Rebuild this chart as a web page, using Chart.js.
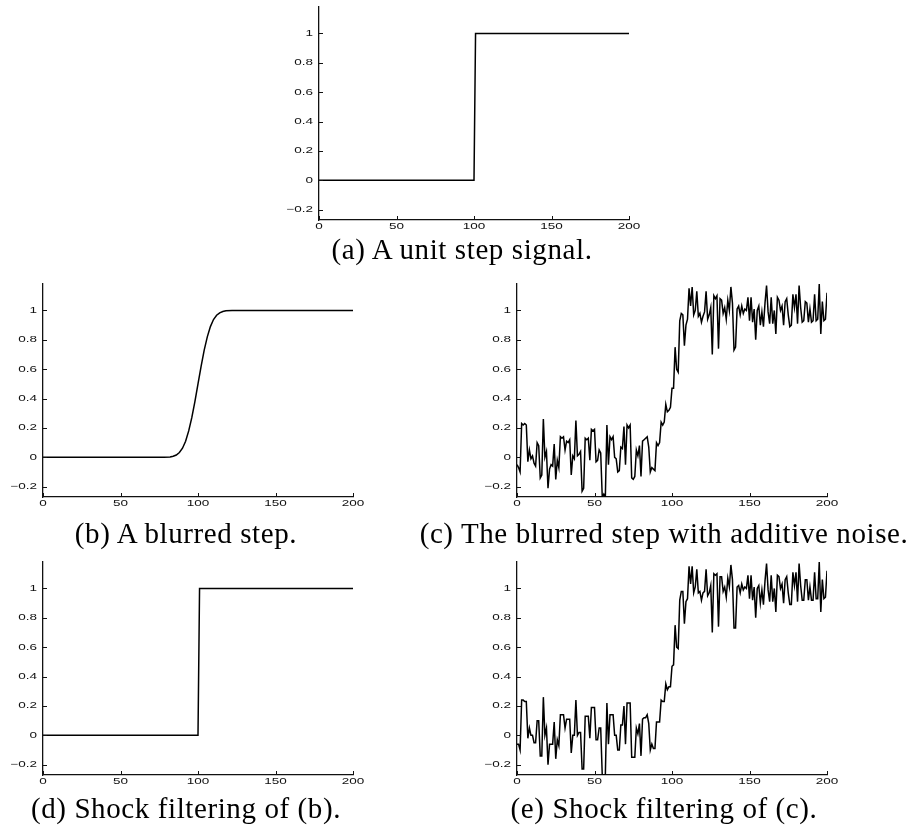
<!DOCTYPE html>
<html>
<head>
<meta charset="utf-8">
<script src="https://cdn.jsdelivr.net/npm/chart.js@4/dist/chart.umd.min.js"></script>
<style>
  html, body { margin: 0; padding: 0; background: #fff; }
  #page { position: relative; width: 920px; height: 831px; overflow: hidden; }
  canvas { position: absolute; }
  .cap {
    position: absolute; width: 600px; margin-left: -300px; text-align: center;
    font-family: "Liberation Serif", "Times New Roman", serif; font-size: 29px;
    line-height: 29px; letter-spacing: 0.6px; color: #000; white-space: nowrap;
  }
</style>
</head>
<body>
<div id="page"></div>
<script>
// axis ticks shared by all five panels
const xTicks = [0, 50, 100, 150, 200];
const xTickLabels = ["0", "50", "100", "150", "200"];
const yTicks = [-0.2, 0, 0.2, 0.4, 0.6, 0.8, 1];
const yTickLabels = ["\u22120.2", "0", "0.2", "0.4", "0.6", "0.8", "1"];

// (a) unit step
const stepX = [0, 100, 101, 200];
const stepY = [0, 0, 1, 1];

// (b) blurred step
const blurX = [0, 78, 82, 84, 86, 88, 90, 92, 94, 96, 98, 100, 102, 104, 106, 108, 110, 112, 114, 116, 118, 122, 200];
const blurY = [0, 0, 0.002, 0.007, 0.016, 0.033, 0.062, 0.11, 0.18, 0.27, 0.38, 0.5, 0.62, 0.73, 0.82, 0.89, 0.938, 0.967, 0.984, 0.993, 0.998, 1, 1];

// (c) blurred step with additive noise, samples 0..200
const noisyY = [
  -0.05, -0.07, -0.10, 0.23, 0.22, 0.23, 0.22, -0.03, 0.05, -0.01,
  0.01, -0.04, -0.06, 0.10, 0.08, -0.14, -0.12, 0.26, 0.00, 0.04,
  -0.21, -0.08, -0.05, -0.06, 0.09, -0.15, -0.02, -0.07, 0.14, 0.13,
  0.14, 0.05, 0.11, 0.10, 0.12, -0.12, 0.01, -0.01, 0.25, 0.01,
  0.02, 0.04, -0.23, -0.21, 0.13, 0.12, 0.13, -0.02, 0.19, 0.18,
  0.19, -0.03, -0.02, 0.05, 0.03, -0.27, -0.25, -0.27, 0.22, -0.05,
  0.14, 0.12, 0.14, 0.00, -0.01, -0.10, -0.09, 0.07, 0.06, 0.21,
  -0.05, 0.22, 0.20, 0.22, -0.14, -0.15, -0.13, 0.05, 0.01, 0.08,
  -0.13, 0.11, 0.12, 0.13, 0.14, 0.07, -0.10, -0.07, -0.08, -0.09,
  0.10, 0.08, 0.10, 0.24, 0.22, 0.24, 0.36, 0.31, 0.32, 0.34,
  0.47, 0.47, 0.75, 0.60, 0.58, 0.93, 0.98, 0.97, 0.76, 0.90,
  0.94, 1.15, 1.03, 1.16, 0.97, 1.00, 1.13, 0.96, 0.98, 0.92,
  0.96, 0.99, 1.13, 0.94, 0.97, 1.02, 0.70, 1.10, 1.08, 1.10,
  0.74, 1.08, 1.07, 0.98, 1.02, 0.94, 1.07, 1.00, 1.16, 1.05,
  0.73, 0.75, 1.01, 1.03, 0.97, 1.03, 0.98, 1.01, 1.00, 1.09,
  0.93, 1.09, 0.92, 1.01, 0.80, 1.00, 1.03, 0.90, 0.99, 0.89,
  1.05, 1.17, 0.99, 0.91, 1.09, 0.91, 1.00, 0.84, 1.09, 1.07,
  1.00, 1.03, 0.90, 1.06, 1.08, 0.97, 0.89, 0.90, 1.11, 1.02,
  1.11, 0.91, 1.17, 1.02, 0.92, 0.93, 1.06, 1.05, 0.92, 1.01,
  0.92, 0.93, 1.11, 0.93, 0.94, 1.18, 0.84, 1.06, 0.93, 0.94,
  1.12
];

// (d) shock filtering of (b)
const shockStepX = [0, 100, 101, 200];
const shockStepY = [0, 0, 1, 1];

// (e) shock filtering of (c), samples 0..200
const shockY = [
  -0.06, -0.06, -0.10, 0.24, 0.24, 0.23, 0.23, -0.02, 0.05, 0.00,
  0.00, -0.05, -0.05, 0.10, 0.10, -0.14, -0.14, 0.26, 0.00, 0.05,
  -0.20, -0.06, -0.06, -0.06, 0.09, -0.16, -0.03, -0.07, 0.14, 0.14,
  0.14, 0.05, 0.11, 0.11, 0.11, -0.12, 0.00, 0.00, 0.24, 0.00,
  0.02, 0.02, -0.23, -0.23, 0.13, 0.13, 0.13, -0.02, 0.19, 0.19,
  0.19, -0.03, -0.03, 0.05, 0.05, -0.27, -0.27, -0.27, 0.22, -0.06,
  0.14, 0.14, 0.14, 0.00, 0.00, -0.10, -0.10, 0.07, 0.07, 0.20,
  -0.06, 0.22, 0.22, 0.22, -0.15, -0.15, -0.15, 0.05, 0.01, 0.08,
  -0.14, 0.11, 0.12, 0.12, 0.14, 0.08, -0.10, -0.06, -0.09, -0.09,
  0.09, 0.09, 0.09, 0.24, 0.23, 0.23, 0.35, 0.31, 0.33, 0.33,
  0.47, 0.48, 0.75, 0.60, 0.59, 0.92, 0.98, 0.98, 0.76, 0.91,
  0.93, 1.15, 1.03, 1.15, 0.97, 1.01, 1.13, 0.97, 0.98, 0.92,
  0.97, 0.98, 1.13, 0.95, 0.97, 1.02, 0.70, 1.10, 1.09, 1.10,
  0.74, 1.08, 1.08, 0.98, 1.01, 0.94, 1.07, 1.01, 1.16, 1.06,
  0.73, 0.73, 1.01, 1.02, 0.97, 1.03, 0.99, 1.01, 1.00, 1.09,
  0.93, 1.09, 0.92, 1.01, 0.80, 1.00, 1.02, 0.90, 0.99, 0.89,
  1.05, 1.17, 0.99, 0.91, 1.09, 0.91, 1.00, 0.84, 1.09, 1.08,
  1.00, 1.03, 0.90, 1.06, 1.08, 0.97, 0.89, 0.89, 1.11, 1.02,
  1.11, 0.91, 1.17, 1.02, 0.92, 0.92, 1.06, 1.06, 0.92, 1.01,
  0.92, 0.92, 1.11, 0.93, 0.93, 1.18, 0.84, 1.06, 0.93, 0.94,
  1.12
];

const captions = [
  "(a) A unit step signal.",
  "(b) A blurred step.",
  "(c) The blurred step with additive noise.",
  "(d) Shock filtering of (b).",
  "(e) Shock filtering of (c)."
];

const toPoints = (xs, ys) => ys.map((y, i) => ({ x: xs[i], y }));
const indexPoints = ys => ys.map((y, i) => ({ x: i, y }));

// where each panel's axes start and where its caption goes
const panels = [
  { pts: toPoints(stepX, stepY), axLeft: 319, axTop: 7, capX: 462, capTop: 235 },
  { pts: toPoints(blurX, blurY), axLeft: 43, axTop: 284, capX: 186, capTop: 519 },
  { pts: indexPoints(noisyY), axLeft: 517, axTop: 284, capX: 664, capTop: 519 },
  { pts: toPoints(shockStepX, shockStepY), axLeft: 43, axTop: 562, capX: 186, capTop: 794 },
  { pts: indexPoints(shockY), axLeft: 517, axTop: 562, capX: 664, capTop: 794 }
];

const PAD_L = 3, Y_W = 40, PLOT_W = 310, PAD_R = 18, PAD_T = 5, PLOT_H = 213, X_H = 22;
const INK = "#111";

// matlab style axes: ticks pointing inwards, wide helvetica-ish labels
const matlabAxes = {
  id: "matlabAxes",
  afterDraw(chart) {
    const { ctx, chartArea: a, scales: { x, y } } = chart;
    ctx.save();
    ctx.strokeStyle = INK;
    ctx.lineWidth = 1;
    ctx.beginPath();
    x.ticks.forEach(t => {
      const px = Math.round(x.getPixelForValue(t.value)) + 0.5;
      ctx.moveTo(px, a.bottom);
      ctx.lineTo(px, a.bottom - 4);
    });
    y.ticks.forEach(t => {
      const py = Math.round(y.getPixelForValue(t.value)) + 0.5;
      ctx.moveTo(a.left, py);
      ctx.lineTo(a.left + 4, py);
    });
    ctx.stroke();

    ctx.fillStyle = INK;
    ctx.font = "9px 'Liberation Sans', Arial, sans-serif";
    ctx.textBaseline = "middle";
    ctx.textAlign = "center";
    x.ticks.forEach((t, i) => {
      ctx.save();
      ctx.translate(x.getPixelForValue(t.value), a.bottom + 7);
      ctx.scale(1.5, 1);
      ctx.fillText(xTickLabels[i], 0, 0);
      ctx.restore();
    });
    ctx.textAlign = "right";
    y.ticks.forEach((t, i) => {
      ctx.save();
      ctx.translate(a.left - 6, y.getPixelForValue(t.value));
      ctx.scale(1.5, 1);
      ctx.fillText(yTickLabels[i], 0, 0);
      ctx.restore();
    });
    ctx.restore();
  }
};

const noPad = s => { s.paddingTop = 0; s.paddingBottom = 0; s.paddingLeft = 0; s.paddingRight = 0; };

const page = document.getElementById("page");

panels.forEach((p, k) => {
  const canvas = document.createElement("canvas");
  canvas.width = PAD_L + Y_W + PLOT_W + PAD_R;
  canvas.height = PAD_T + PLOT_H + X_H;
  canvas.style.left = (p.axLeft - PAD_L - Y_W) + "px";
  canvas.style.top = (p.axTop - PAD_T) + "px";
  page.appendChild(canvas);

  const cap = document.createElement("div");
  cap.className = "cap";
  cap.style.left = p.capX + "px";
  cap.style.top = p.capTop + "px";
  cap.textContent = captions[k];
  page.appendChild(cap);

  new Chart(canvas, {
    type: "line",
    data: {
      datasets: [{
        data: p.pts,
        borderColor: "#000",
        borderWidth: 1.5,
        pointRadius: 0,
        tension: 0,
        fill: false
      }]
    },
    options: {
      responsive: false,
      animation: false,
      events: [],
      layout: { padding: { left: PAD_L, right: PAD_R, top: PAD_T, bottom: 0 } },
      plugins: { legend: { display: false }, tooltip: { enabled: false } },
      scales: {
        x: {
          type: "linear",
          min: 0,
          max: 200,
          afterBuildTicks: s => { s.ticks = xTicks.map(v => ({ value: v })); },
          afterFit: s => { s.height = X_H; noPad(s); },
          grid: { display: false, drawTicks: false },
          border: { display: true, color: INK, width: 1.3 },
          ticks: { display: false }
        },
        y: {
          type: "linear",
          min: -0.27,
          max: 1.18,
          afterBuildTicks: s => { s.ticks = yTicks.map(v => ({ value: v })); },
          afterFit: s => { s.width = Y_W; noPad(s); },
          grid: { display: false, drawTicks: false },
          border: { display: true, color: INK, width: 1.3 },
          ticks: { display: false }
        }
      }
    },
    plugins: [matlabAxes]
  });
});
</script>
</body>
</html>
